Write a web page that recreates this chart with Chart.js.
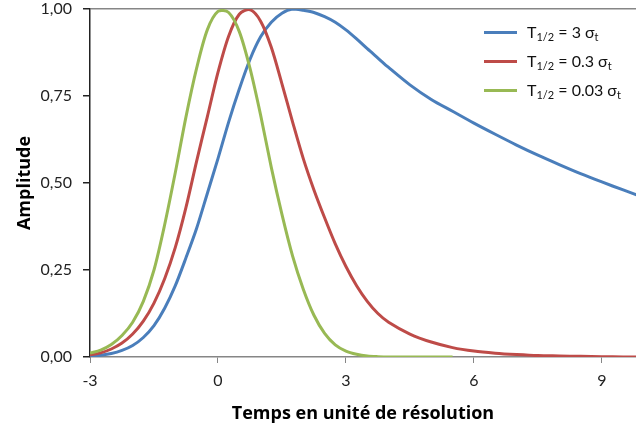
<!DOCTYPE html>
<html>
<head>
<meta charset="utf-8">
<script src="https://cdn.jsdelivr.net/npm/chart.js@4"></script>
<style>
  html, body { margin: 0; padding: 0; background: #fff; }
  #wrap { position: relative; width: 636px; height: 429px; }
  #legend { position: absolute; left: 484px; top: 18px; font-family: Lato, sans-serif; font-size: 16px; color: #111; }
  #legend .row { height: 29px; display: flex; align-items: center; }
  #legend .swatch { width: 33px; height: 3px; margin-right: 10px; }
  #legend sub { font-size: 11px; vertical-align: -3px; }
</style>
</head>
<body>
<div id="wrap">
  <canvas id="chart" width="636" height="429"></canvas>
  <div id="legend"></div>
</div>
<script>
  // temps (unite de resolution)
  const xs = [-3, -2.75, -2.5, -2.25, -2, -1.75, -1.5, -1.25, -1, -0.75, -0.5, -0.25,
    0, 0.25, 0.5, 0.75, 1, 1.25, 1.5, 1.75, 2, 2.25, 2.5, 2.75, 3, 3.25, 3.5, 3.75, 4,
    4.5, 5, 5.5, 6, 6.5, 7, 7.5, 8, 8.5, 9, 9.5, 10];

  // T1/2 = 3 sigma
  const blue = [0.002, 0.005, 0.010, 0.019, 0.033, 0.056, 0.09, 0.14, 0.205, 0.285, 0.37, 0.47,
    0.57, 0.675, 0.77, 0.855, 0.92, 0.962, 0.988, 1.0, 0.996, 0.99, 0.978, 0.962, 0.94, 0.914, 0.886, 0.859, 0.832,
    0.782, 0.74, 0.706, 0.672, 0.64, 0.609, 0.58, 0.553, 0.527, 0.503, 0.48, 0.458];
  // T1/2 = 0.3 sigma
  const red = [0.006, 0.012, 0.023, 0.04, 0.066, 0.103, 0.155, 0.225, 0.315, 0.43, 0.563, 0.69,
    0.818, 0.922, 0.985, 0.998, 0.965, 0.89, 0.785, 0.675, 0.57, 0.48, 0.40, 0.325, 0.26, 0.205, 0.16, 0.125, 0.10,
    0.066, 0.043, 0.027, 0.017, 0.011, 0.007, 0.004, 0.003, 0.002, 0.001, 0, 0];
  // T1/2 = 0.03 sigma
  const green = [0.011, 0.02, 0.036, 0.062, 0.10, 0.16, 0.25, 0.38, 0.53, 0.69, 0.83, 0.94,
    0.993, 0.99, 0.935, 0.83, 0.695, 0.545, 0.41, 0.29, 0.195, 0.12, 0.068, 0.035, 0.017, 0.008, 0.003, 0.001, 0,
    0, 0, 0, null, null, null, null, null, null, null, null, null];

  const labels = ['3', '0.3', '0.03'];
  const colors = ['#4a7ebb', '#be4b48', '#98b954'];
  const xTicks = [-3, 0, 3, 6, 9];

  function pts(arr) {
    return xs.map((x, i) => ({ x: x, y: arr[i] }));
  }

  const legend = document.getElementById('legend');
  labels.forEach(function (l, i) {
    legend.innerHTML += '<div class="row"><div class="swatch" style="background:' + colors[i] +
      '"></div><span>T<sub>1/2</sub> = ' + l + ' &sigma;<sub>t</sub></span></div>';
  });

  const tickFont = { family: 'Lato, sans-serif', size: 16 };
  const titleFont = { family: '"Open Sans", sans-serif', size: 18, weight: 'bold' };

  new Chart(document.getElementById('chart'), {
    type: 'line',
    data: {
      datasets: [
        { data: pts(blue), borderColor: colors[0], order: 3 },
        { data: pts(red), borderColor: colors[1], order: 2 },
        { data: pts(green), borderColor: colors[2], order: 1 }
      ]
    },
    options: {
      responsive: false,
      animation: false,
      layout: { padding: { top: 9, right: 0, left: 0, bottom: 0 } },
      elements: {
        point: { radius: 0 },
        line: { borderWidth: 3, tension: 0.3, fill: false }
      },
      plugins: { legend: { display: false }, tooltip: { enabled: false } },
      scales: {
        x: {
          type: 'linear',
          min: -3,
          max: 9.8,
          afterFit: function (s) { s.height = 72; s.paddingRight = 0; },
          afterBuildTicks: function (s) { s.ticks = xTicks.map(v => ({ value: v })); },
          border: { color: '#868686', width: 1.5 },
          grid: { drawOnChartArea: false, tickLength: 6, tickColor: '#868686' },
          ticks: { font: tickFont, color: '#222', padding: 8, maxRotation: 0 },
          title: { display: true, text: 'Temps en unité de résolution', font: titleFont, color: '#000', padding: { bottom: 4 } }
        },
        y: {
          min: 0,
          max: 1,
          afterFit: function (s) { s.width = 90; s.paddingTop = 0; s.paddingBottom = 0; },
          border: { color: '#222', width: 1.5 },
          grid: {
            color: function (c) { return c.tick && c.tick.value === 1 ? '#868686' : 'transparent'; },
            lineWidth: 1.5,
            tickLength: 7,
            tickColor: '#222'
          },
          ticks: {
            stepSize: 0.25,
            font: tickFont,
            color: '#222',
            padding: 11,
            callback: function (v) { return v.toFixed(2).replace('.', ','); }
          },
          title: { display: true, text: 'Amplitude', font: titleFont, color: '#000', padding: { top: 14 } }
        }
      }
    }
  });
</script>
</body>
</html>
